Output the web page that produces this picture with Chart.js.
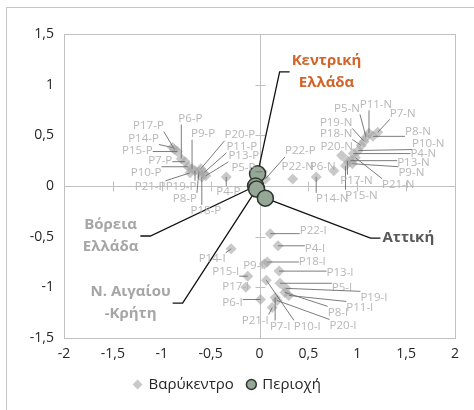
<!DOCTYPE html>
<html>
<head>
<meta charset="utf-8">
<script src="https://cdn.jsdelivr.net/npm/chart.js@4"></script>
<style>
  html, body { margin: 0; padding: 0; background: #fff; }
  #frame { position: absolute; left: 6px; top: 7px; width: 480px; height: 420px;
           border-left: 1px solid #c6c6c6; border-top: 1px solid #c6c6c6; }
  #myChart { position: absolute; left: 0; top: 0; }
</style>
</head>
<body>
<div id="frame"></div>
<canvas id="myChart" width="474" height="410"></canvas>
<script>
// point codes, one per region-group
const codes = ["P4","P5","P6","P7","P8","P9","P10","P11","P13","P14","P15","P17","P18","P19","P20","P21","P22"];
const groups = ["P", "N", "I"];

// Βαρύκεντρο values per group (same order as codes)
const xP = [-0.34, 0.03, -0.80, -0.76, -0.62, -0.69, -0.73, -0.57, -0.55, -0.89, -0.84, -0.87, -0.59, -0.66, -0.60, -0.71, 0.06];
const yP = [ 0.09, 0.14,  0.27,  0.24,  0.14,  0.17,  0.19,  0.13,  0.10,  0.38,  0.34,  0.36,  0.09,  0.15,  0.17,  0.13, 0.07];
const xN = [0.96, 1.09, 0.76, 1.21, 1.16, 0.95, 1.01, 1.12, 0.93, 0.58, 0.88, 0.90, 1.04, 1.07, 0.84, 0.98, 0.34];
const yN = [0.32, 0.48, 0.15, 0.53, 0.49, 0.22, 0.35, 0.52, 0.25, 0.09, 0.20, 0.25, 0.40, 0.44, 0.30, 0.28, 0.07];
const xI = [ 0.19,  0.21,  0.01,  0.16,  0.26,  0.05,  0.07,  0.30,  0.20, -0.29, -0.12, -0.14,  0.08,  0.27,  0.18,  0.13,  0.11];
const yI = [-0.59, -0.96, -1.12, -1.10, -1.05, -0.77, -0.93, -1.08, -0.84, -0.62, -0.89, -1.00, -0.75, -1.01, -1.13, -1.20, -0.47];

// Περιοχή
const regions = ["Κεντρική Ελλάδα", "Βόρεια Ελλάδα", "Ν. Αιγαίου -Κρήτη", "Αττική"];
const regionLines = [["Κεντρική", "Ελλάδα"], ["Βόρεια", "Ελλάδα"], ["Ν. Αιγαίου", "-Κρήτη"], ["Αττική"]];
const regionX = [-0.02, -0.04, -0.03, 0.06];
const regionY = [ 0.12,  0.00, -0.03, -0.12];

// axis ticks
const xTicks = [-2, -1.5, -1, -0.5, 0, 0.5, 1, 1.5, 2];
const yTicks = [-1.5, -1, -0.5, 0, 0.5, 1, 1.5];

// label placement (pixel offsets from the point)
const offP = [[2,15],[-19,-4],[9,-40],[-25,-1],[-14,27],[11,-35],[-42,6],[38,-26],[38,-20],[-29,-9],[-40,-1],[-26,-24],[4,34],[-14,16],[39,-34],[-40,14],[35,-28]];
const offN = [[70,0],[-19,-29],[-11,-4],[25,-19],[45,-5],[59,9],[70,-7],[7,-29],[63,2],[16,22],[16,30],[9,20],[-25,-12],[-28,-19],[-5,-9],[43,27],[5,-12]];
const offI = [[37,3],[62,4],[-28,3],[5,29],[53,20],[-11,2],[41,46],[71,12],[61,2],[-19,10],[-22,-4],[-10,-1],[45,0],[88,9],[66,25],[-17,13],[43,-3]];
const regionOff = [[69,-102], [-145,50], [-126,114], [143,40]];
const regionColors = ["#d2642a", "#a6a6a6", "#a6a6a6", "#595959"];

const fmt = v => String(v).replace(".", ",");

let pts = [], ptLabels = [], ptOffsets = [];
const xs = [xP, xN, xI], ys = [yP, yN, yI], offs = [offP, offN, offI];
groups.forEach((g, gi) => {
  codes.forEach((c, i) => {
    pts.push({ x: xs[gi][i], y: ys[gi][i] });
    ptLabels.push(c + "-" + g);
    ptOffsets.push(offs[gi][i]);
  });
});
const regionPts = regionX.map((x, i) => ({ x: x, y: regionY[i] }));

const FONT = "'Open Sans', 'DejaVu Sans', sans-serif";

const decorPlugin = {
  id: "decor",
  beforeDatasetsDraw(chart) {
    const { ctx, chartArea: a, scales: { x, y } } = chart;
    ctx.save();
    // plot border
    ctx.strokeStyle = "#c0c0c0";
    ctx.lineWidth = 1;
    ctx.strokeRect(a.left + 0.5, a.top + 0.5, a.right - a.left, a.bottom - a.top);
    // axes through zero
    const x0 = Math.round(x.getPixelForValue(0)) + 0.5;
    const y0 = Math.round(y.getPixelForValue(0)) + 0.5;
    ctx.beginPath();
    ctx.moveTo(x0, a.top); ctx.lineTo(x0, a.bottom);
    ctx.moveTo(a.left, y0); ctx.lineTo(a.right, y0);
    yTicks.forEach(v => {
      const py = Math.round(y.getPixelForValue(v)) + 0.5;
      ctx.moveTo(x0 - 5, py); ctx.lineTo(x0 + 5, py);
    });
    xTicks.forEach(v => {
      const px = Math.round(x.getPixelForValue(v)) + 0.5;
      ctx.moveTo(px, y0 - 5); ctx.lineTo(px, y0 + 5);
    });
    ctx.stroke();

    // region annotations with black leader lines
    ctx.font = "bold 15px " + FONT;
    ctx.textAlign = "center";
    ctx.textBaseline = "middle";
    regionPts.forEach((p, i) => {
      const px = x.getPixelForValue(p.x), py = y.getPixelForValue(p.y);
      const cx = px + regionOff[i][0], cy = py + regionOff[i][1];
      const lines = regionLines[i];
      const w = Math.max(...lines.map(l => ctx.measureText(l).width));
      const side = cx > px ? -1 : 1;
      const edge = cx + side * (w / 2 + 2);
      const stubEnd = edge + side * 10;
      ctx.strokeStyle = "#111";
      ctx.lineWidth = 1.3;
      ctx.beginPath();
      ctx.moveTo(edge, cy); ctx.lineTo(stubEnd, cy); ctx.lineTo(px, py);
      ctx.stroke();
      ctx.fillStyle = regionColors[i];
      lines.forEach((l, k) => {
        ctx.fillText(l, cx, cy + (k - (lines.length - 1) / 2) * 22);
      });
    });
    ctx.restore();
  },
  afterDatasetsDraw(chart) {
    const { ctx, scales: { x, y } } = chart;
    ctx.save();
    ctx.font = "11.5px " + FONT;
    ctx.textAlign = "center";
    ctx.textBaseline = "middle";
    pts.forEach((p, i) => {
      const px = x.getPixelForValue(p.x), py = y.getPixelForValue(p.y);
      const cx = px + ptOffsets[i][0], cy = py + ptOffsets[i][1];
      const w = ctx.measureText(ptLabels[i]).width;
      const h = 12;
      const nx = Math.max(cx - w / 2, Math.min(px, cx + w / 2));
      const ny = Math.max(cy - h / 2, Math.min(py, cy + h / 2));
      if (Math.hypot(nx - px, ny - py) > 6) {
        ctx.strokeStyle = "rgba(110,110,110,0.9)";
        ctx.lineWidth = 1;
        ctx.beginPath();
        ctx.moveTo(px, py); ctx.lineTo(nx, ny);
        ctx.stroke();
      }
      ctx.fillStyle = "rgba(175,175,175,0.9)";
      ctx.fillText(ptLabels[i], cx, cy);
    });
    ctx.restore();
  }
};

const config = {
  type: "scatter",
  data: {
    datasets: [
      {
        label: "Βαρύκεντρο",
        data: pts,
        pointStyle: "rectRot",
        pointRadius: 5.5,
        pointHoverRadius: 5.5,
        backgroundColor: "rgba(165,165,165,0.6)",
        borderColor: "rgba(165,165,165,0.6)",
        borderWidth: 0,
        order: 1
      },
      {
        label: "Περιοχή",
        data: regionPts,
        pointStyle: "circle",
        pointRadius: 8,
        pointHoverRadius: 8,
        backgroundColor: "#97a797",
        borderColor: "#2c362e",
        borderWidth: 1.5,
        order: 0
      }
    ]
  },
  options: {
    responsive: false,
    animation: false,
    layout: { padding: { top: 34, right: 19, left: 0, bottom: 8 } },
    scales: {
      x: {
        type: "linear", min: -2, max: 2,
        afterFit: s => { s.height = 25; },
        afterBuildTicks: s => { s.ticks = xTicks.map(v => ({ value: v })); },
        ticks: { callback: v => fmt(v), color: "#262626", font: { family: FONT, size: 14 }, padding: 8 },
        grid: { display: false, drawTicks: false },
        border: { display: false }
      },
      y: {
        type: "linear", min: -1.5, max: 1.5,
        afterFit: s => { s.width = 64; },
        afterBuildTicks: s => { s.ticks = yTicks.map(v => ({ value: v })); },
        ticks: { callback: v => fmt(v), color: "#262626", font: { family: FONT, size: 14 }, padding: 10 },
        grid: { display: false, drawTicks: false },
        border: { display: false }
      }
    },
    plugins: {
      tooltip: { enabled: false },
      legend: {
        position: "bottom",
        labels: {
          usePointStyle: true,
          boxWidth: 7, boxHeight: 7,
          padding: 14,
          color: "#262626",
          font: { family: FONT, size: 15 },
          sort: (a, b) => a.datasetIndex - b.datasetIndex
        }
      }
    }
  },
  plugins: [decorPlugin]
};

var myChart = new Chart(document.getElementById("myChart"), config);
</script>
</body>
</html>
